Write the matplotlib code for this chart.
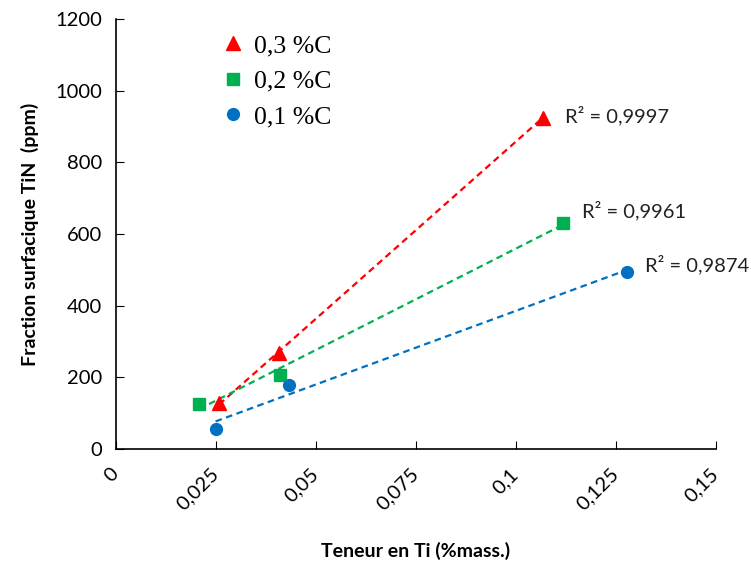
import numpy as np
import matplotlib
matplotlib.use("Agg")
import matplotlib.pyplot as plt

# Data
series_labels = ["0,3 %C", "0,2 %C", "0,1 %C"]
ti_03 = [0.0258, 0.0408, 0.1067]
tin_03 = [129, 267, 925]
ti_02 = [0.0208, 0.0410, 0.1118]
tin_02 = [126, 207, 630]
ti_01 = [0.0249, 0.0432, 0.1278]
tin_01 = [55, 179, 495]
r2_labels = ["R² = 0,9997", "R² = 0,9961", "R² = 0,9874"]
x_ticks = [0, 0.025, 0.05, 0.075, 0.1, 0.125, 0.15]
x_ticklabels = ["0", "0,025", "0,05", "0,075", "0,1", "0,125", "0,15"]
y_ticks = [0, 200, 400, 600, 800, 1000, 1200]

colors = ["#FF0000", "#00B050", "#0070C0"]
markers = ["^", "s", "o"]
msizes = [9.5, 8.5, 8.5]

fig = plt.figure(figsize=(7.51, 5.61), dpi=100)
ax = fig.add_axes([0.1545, 0.1996, 0.7985, 0.7665])

xs = [ti_03, ti_02, ti_01]
ys = [tin_03, tin_02, tin_01]
label_offsets = [(16, 1.5), (14, 9.5), (13, 5)]

handles = []
for x, y, c, m, ms, lab, r2, off in zip(xs, ys, colors, markers, msizes,
                                        series_labels, r2_labels, label_offsets):
    x = np.array(x); y = np.array(y)
    h, = ax.plot(x, y, linestyle="none", marker=m, color=c, markersize=ms,
                 label=lab, zorder=3)
    handles.append(h)
    k, b = np.polyfit(x, y, 1)
    xf = np.array([x.min(), x.max()])
    ax.plot(xf, k * xf + b, linestyle=(0, (3, 2)), color=c, linewidth=1.6, zorder=2)
    ax.annotate(r2, xy=(x.max(), y.max()), xytext=off, textcoords="offset points",
                fontsize=14.5, family="Lato", color="#222222", va="center", ha="left")

ax.set_xlim(0, 0.15)
ax.set_ylim(0, 1200)
ax.set_xticks(x_ticks)
ax.set_xticklabels(x_ticklabels, rotation=45, ha="right", va="center",
                   rotation_mode="anchor", family="Lato", fontsize=14.5)
ax.set_yticks(y_ticks)
ax.set_yticklabels([str(v) for v in y_ticks], family="Lato", fontsize=14.5)
ax.tick_params(axis="x", direction="in", length=6, pad=16, colors="black")
ax.tick_params(axis="y", direction="in", length=6, pad=10, colors="black")
for s in ["top", "right"]:
    ax.spines[s].set_visible(False)
for s in ["left", "bottom"]:
    ax.spines[s].set_linewidth(1.2)
    ax.spines[s].set_color("black")

ax.set_xlabel("Teneur en Ti (%mass.)", family="Lato", fontweight="bold",
              fontsize=14, labelpad=20)
ax.set_ylabel("Fraction surfacique TiN  (ppm)", family="Lato", fontweight="bold",
              fontsize=14, labelpad=12)

leg = ax.legend(handles=handles, loc="upper left", bbox_to_anchor=(0.135, 1.018),
                frameon=False, prop={"family": "Liberation Serif", "size": 18.5},
                handletextpad=0.32, labelspacing=0.48, handlelength=1.0)

fig.savefig("out.png", dpi=100)
